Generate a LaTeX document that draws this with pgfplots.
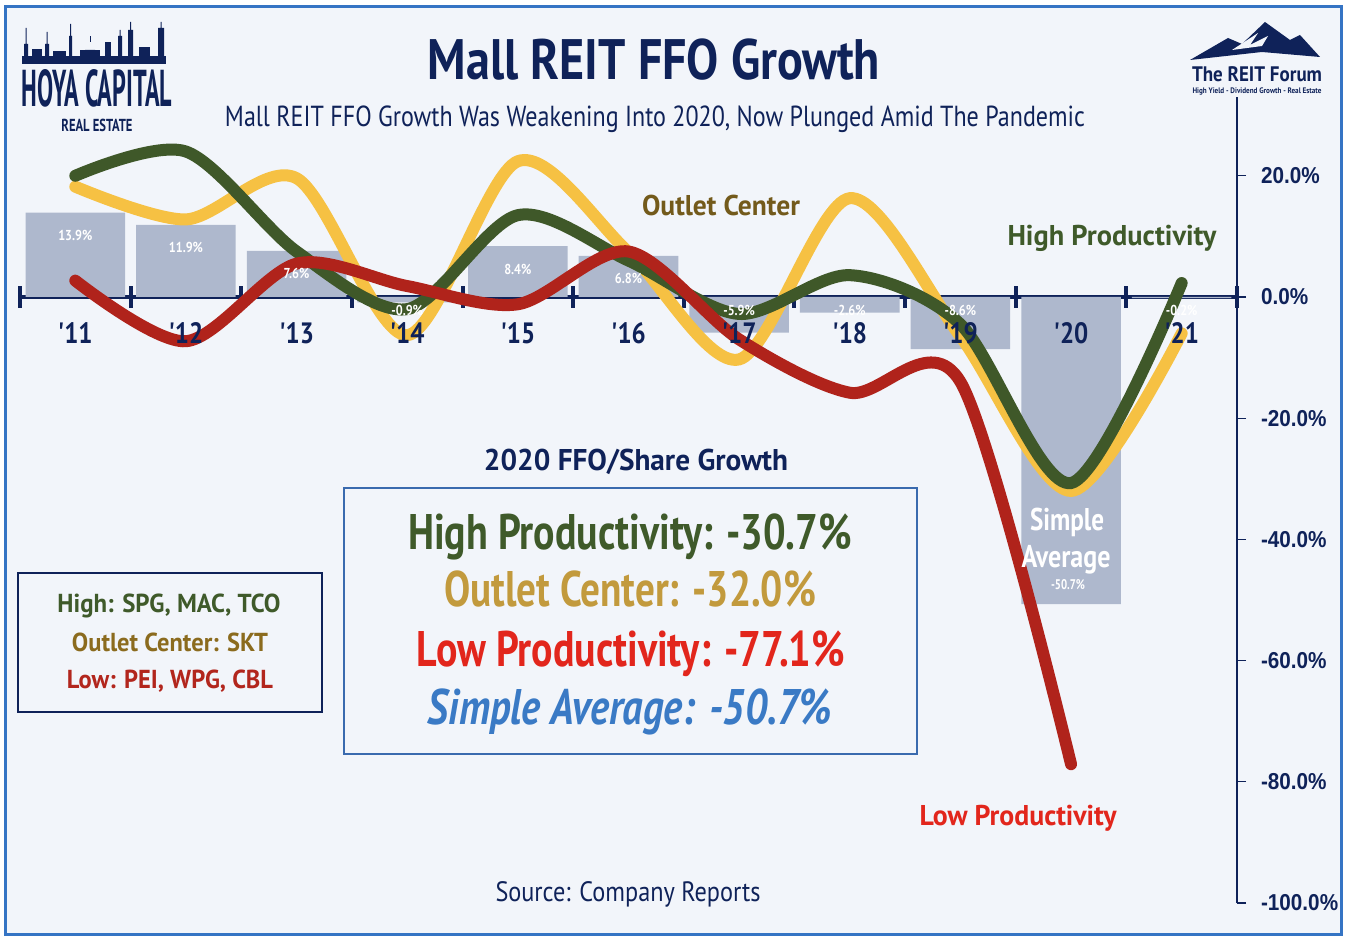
\documentclass[border=0pt]{standalone}
\usepackage{pgfplots}
\pgfplotsset{compat=1.18}
\usepackage{graphicx}
\usepackage{fontspec}
\setmainfont{PT Sans}
\newfontfamily\cond[FakeStretch=0.85]{PT Sans}
\newfontfamily\tickf[FakeStretch=0.9]{Liberation Sans}
\newcommand\fs[1]{\fontsize{#1}{#1}\selectfont}
\definecolor{navy}{HTML}{0F2259}
\definecolor{bgc}{HTML}{F2F5FA}
\definecolor{borderc}{HTML}{3574C4}
\definecolor{barc}{HTML}{AEB8CD}
\definecolor{lgreen}{HTML}{3F5829}
\definecolor{lyellow}{HTML}{F6C143}
\definecolor{lred}{HTML}{B0231B}
\definecolor{tgreen}{HTML}{3F5A2A}
\definecolor{tbrown}{HTML}{735A1B}
\definecolor{tbrownb}{HTML}{8B6B1E}
\definecolor{tgold}{HTML}{C29A3D}
\definecolor{tredb}{HTML}{E2261C}
\definecolor{tredl}{HTML}{B2261D}
\definecolor{tblue}{HTML}{3A7AC5}
\definecolor{boxline}{HTML}{3A6AAE}
\pgfplotsset{
  common/.style={at={(10pt,-451.5pt)}, anchor=south west,
    scale only axis, width=608.5pt, height=403pt,
    xmin=-0.5, xmax=10.5, ymin=-100, ymax=33,
    enlargelimits=false, clip=false},
}
\begin{document}
\begin{tikzpicture}[x=0.5pt,y=-0.5pt]
\useasboundingbox (0,0) rectangle (1350,940);
\fill[white] (0,0) rectangle (1350,940);
\filldraw[fill=bgc, draw=borderc, line width=1.5pt] (5,7) rectangle (1341,934);

\begin{axis}[common,
  axis x line*=middle, axis y line*=right,
  hide obscured x ticks=false, hide obscured y ticks=false,
  xtick={0,...,10}, xticklabels={},
  minor xtick={-0.5,0.5,...,10.5},
  xtick align=center,
  major x tick style={draw=none},
  minor x tick style={draw=navy, line width=2pt},
  minor tick length=11pt,
  ytick={-100,-80,-60,-40,-20,0,20},
  yticklabels={-100.0\%,-80.0\%,-60.0\%,-40.0\%,-20.0\%,0.0\%,20.0\%},
  ytick align=outside, major tick length=4.5pt,
  major y tick style={draw=navy, line width=0.6pt},
  x axis line style={draw=navy, line width=2pt, -},
  y axis line style={draw=navy, line width=0.8pt, -},
  yticklabel style={font=\tickf\bfseries\fs{11.5}, text=navy, anchor=west, xshift=4pt},
]
\addplot[ybar, bar width=0.9, fill=barc, draw=none] coordinates {
 (0,13.9) (1,11.9) (2,7.6) (3,-0.9) (4,8.4) (5,6.8) (6,-5.9) (7,-2.6) (8,-8.6) (9,-50.7) (10,-0.2)};
\addplot[smooth, tension=0.5, line width=6pt, color=lyellow, line cap=round, mark=none] coordinates {
 (0,18.2) (1,12.8) (2,19.6) (3,-6.3) (4,22.4) (5,7.4) (6,-10.3) (7,16.3) (8,-6.5) (9,-32.0) (10,-6)};
\addplot[smooth, tension=0.5, line width=6pt, color=lgreen, line cap=round, mark=none] coordinates {
 (0,20) (1,24) (2,7.5) (3,-2) (4,13.5) (5,6) (6,-2.8) (7,3.6) (8,-4.5) (9,-30.7) (10,2.3)};
\addplot[smooth, tension=0.5, line width=6pt, color=lred, line cap=round, mark=none] coordinates {
 (0,2.7) (1,-7.3) (2,5.5) (3,1.8) (4,-1.2) (5,7.5) (6,-7) (7,-15.8) (8,-14) (9,-77.1)};
\begin{scope}[every node/.style={text=white, font=\cond\bfseries\fs{7.2}, inner sep=0}]
\node at (axis cs:0,13.9) [yshift=-11.5pt] {13.9\%};
\node at (axis cs:1,11.9) [yshift=-11.5pt] {11.9\%};
\node at (axis cs:2,7.6) [yshift=-11.5pt] {7.6\%};
\node at (axis cs:3,-2.3) {-0.9\%};
\node at (axis cs:4,8.4) [yshift=-11.5pt] {8.4\%};
\node at (axis cs:5,6.8) [yshift=-11.5pt] {6.8\%};
\node at (axis cs:6,-2.3) {-5.9\%};
\node at (axis cs:7,-2.3) {-2.6\%};
\node at (axis cs:8,-2.3) {-8.6\%};
\node at (axis cs:10,-2.3) {-0.2\%};
\end{scope}
\end{axis}

% second axis on top: category labels only
\begin{axis}[common,
  axis x line*=middle, axis y line=none,
  x axis line style={draw=none},
  xtick={0,...,10},
  xticklabels={'11,'12,'13,'14,'15,'16,'17,'18,'19,'20,'21},
  major x tick style={draw=none},
  ytick=\empty,
  xticklabel style={font=\cond\bfseries\fs{14.7}, text=navy, anchor=base, yshift=-23.5pt},
]
\end{axis}

% boxes
\filldraw[fill=bgc, draw=boxline, line width=0.75pt] (344,488) rectangle (917,754);
\filldraw[fill=bgc, draw=navy, line width=1pt] (18,573) rectangle (322,712);

\begin{scope}[every node/.style={anchor=base, inner sep=0}]
\node[text=navy, font=\bfseries\fs{28.5}] at (654,80) {\resizebox{226pt}{\height}{Mall REIT FFO Growth}};
\node[text=navy, font=\fs{14.5}] at (655,127) {\resizebox{430pt}{\height}{Mall REIT FFO Growth Was Weakening Into 2020, Now Plunged Amid The Pandemic}};
\node[text=tbrown, font=\bfseries\fs{14.3}] at (721,216) {\resizebox{79pt}{\height}{Outlet Center}};
\node[text=tgreen, font=\bfseries\fs{14.3}] at (1112,246) {\resizebox{104.5pt}{\height}{High Productivity}};
\node[text=tredb, font=\bfseries\fs{14.3}] at (1018,826) {\resizebox{98.5pt}{\height}{Low Productivity}};
\node[text=navy, font=\bfseries\fs{15}] at (636,471) {\resizebox{152pt}{\height}{2020 FFO/Share Growth}};
\node[text=tgreen, font=\bfseries\fs{25}] at (630,550) {\resizebox{222pt}{\height}{High Productivity: -30.7\%}};
\node[text=tgold, font=\bfseries\fs{25}] at (630,607) {\resizebox{186pt}{\height}{Outlet Center: -32.0\%}};
\node[text=tredb, font=\bfseries\fs{25}] at (631,667) {\resizebox{214pt}{\height}{Low Productivity: -77.1\%}};
\node[text=tblue, font=\bfseries\itshape\fs{25}] at (630,725) {\resizebox{202pt}{\height}{Simple Average: -50.7\%}};
\node[text=tgreen, font=\bfseries\fs{13}] at (169,613) {\resizebox{111.5pt}{\height}{High: SPG, MAC, TCO}};
\node[text=tbrownb, font=\bfseries\fs{13}] at (170,652) {\resizebox{98pt}{\height}{Outlet Center: SKT}};
\node[text=tredl, font=\bfseries\fs{13}] at (170,689) {\resizebox{103pt}{\height}{Low: PEI, WPG, CBL}};
\node[text=navy, font=\fs{14}] at (628,901) {\resizebox{132.5pt}{\height}{Source: Company Reports}};
\node[text=white, font=\bfseries\fs{15.7}] at (1067,531) {\resizebox{37pt}{\height}{Simple}};
\node[text=white, font=\bfseries\fs{15.7}] at (1066,568) {\resizebox{44.5pt}{\height}{Average}};
\node[text=white, font=\bfseries\fs{7}] at (1068,590) {\resizebox{17pt}{\height}{-50.7\%}};
\node[text=navy, font=\bfseries\fs{27}] at (97,107) {\resizebox{75pt}{18.5pt}{HOYA CAPITAL}};
\node[text=navy, font=\bfseries\fs{10}] at (97,132) {\resizebox{35.5pt}{6.2pt}{REAL ESTATE}};
\node[text=navy, font=\bfseries\fs{10.5}] at (1257,82) {\resizebox{65pt}{\height}{The REIT Forum}};
\node[text=navy, font=\bfseries\fs{4}] at (1257,94) {\resizebox{64.5pt}{\height}{High Yield - Dividend Growth - Real Estate}};
\end{scope}

% skyline (logo decoration)
\fill[navy] (22,56) rectangle (166,64);
\fill[navy] (24,44) rectangle (28,56) (25.5,28) rectangle (26.5,44);
\fill[navy] (32,49) rectangle (42,56);
\fill[navy] (45,44) rectangle (49,56) (46.5,32) rectangle (47.5,44);
\fill[navy] (53,51) rectangle (66,56);
\fill[navy] (69,36) rectangle (72,56) (70,24) rectangle (71,36);
\fill[navy] (80,50) rectangle (100,56);
\fill[navy] (85,50) arc (180:0:5) -- cycle;
\fill[navy] (89.5,36) rectangle (90.5,42);
\fill[navy] (105,42) rectangle (111,56);
\fill[navy] (118,36) rectangle (122,56) (119.5,30) rectangle (120.5,36);
\fill[navy] (128,30) rectangle (133,56) (130,22) rectangle (131,30);
\fill[navy] (139,47) rectangle (150,56);
\fill[navy] (158,28) rectangle (164,56) (160.5,22) rectangle (161.5,28);
% mountains (logo decoration)
\fill[navy] (1190,60) -- (1228,38) -- (1242,44) -- (1265,22) -- (1290,40) -- (1300,35) -- (1320,57) -- (1262,52) -- cycle;
\fill[bgc] (1232,50) -- (1258,33) -- (1250,45) -- (1268,36) -- (1262,46) -- cycle;
\end{tikzpicture}
\end{document}
